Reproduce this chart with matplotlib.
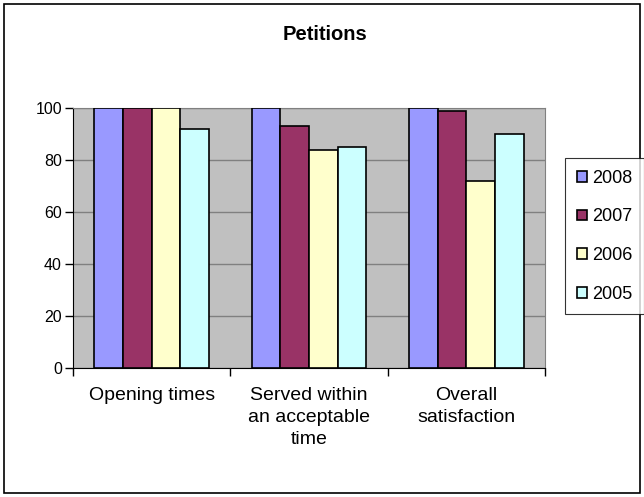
import matplotlib.pyplot as plt
import matplotlib as mpl
import numpy as np
from matplotlib.patches import Rectangle

categories = ["Opening times", "Served within\nan acceptable\ntime", "Overall\nsatisfaction"]
years = ["2008", "2007", "2006", "2005"]
values_2008 = [100, 100, 100]
values_2007 = [100, 93, 99]
values_2006 = [100, 84, 72]
values_2005 = [92, 85, 90]
colors = ["#9999FF", "#993366", "#FFFFCC", "#CCFFFF"]

mpl.rcParams["font.family"] = ["Liberation Sans", "DejaVu Sans"]

fig = plt.figure(figsize=(6.44, 4.97), dpi=100)
ax = fig.add_axes([73 / 644, 1 - 368 / 497, 472 / 644, 260 / 497])

ax.set_facecolor("#C0C0C0")
x = np.arange(len(categories))
width = 1 / 5.5
series = [values_2008, values_2007, values_2006, values_2005]
for i, (vals, year, col) in enumerate(zip(series, years, colors)):
    ax.bar(x + (i - 1.5) * width, vals, width, color=col, edgecolor="black",
           linewidth=1.2, label=year, zorder=3)

ax.set_xlim(-0.5, 2.5)
ax.set_ylim(0, 100)
ax.set_yticks(np.arange(0, 101, 20))
ax.yaxis.grid(True, color="#808080", linewidth=1.0, zorder=1)
ax.set_axisbelow(True)

ax.set_xticks(x, categories, fontsize=14, linespacing=1.35)
ax.tick_params(axis="x", which="major", length=0, pad=14)
ax.set_xticks(np.arange(-0.5, 3, 1), minor=True)
ax.tick_params(axis="x", which="minor", length=6, direction="out", width=1)
ax.tick_params(axis="y", length=6, direction="out", width=1, labelsize=11.5, pad=2)

for side in ["top", "right"]:
    ax.spines[side].set_color("#808080")
for side in ["left", "bottom"]:
    ax.spines[side].set_color("black")

fig.text(325 / 644, 1 - 35 / 497, "Petitions", ha="center", va="center",
         fontsize=14.5, fontweight="bold")

leg = fig.legend(loc="upper left", bbox_to_anchor=(565 / 644, 1 - 158 / 497),
                 fontsize=13, frameon=True, fancybox=False, handlelength=0.55,
                 handleheight=0.55, handletextpad=0.3, labelspacing=1.2,
                 borderpad=0.65, borderaxespad=0)
leg.get_frame().set_edgecolor("black")
leg.get_frame().set_linewidth(0.8)

fig.patches.append(Rectangle((4 / 644, 4 / 497), 636 / 644, 489 / 497,
                             transform=fig.transFigure, fill=False,
                             edgecolor="black", linewidth=1.2))

plt.savefig("out.png", dpi=100)
